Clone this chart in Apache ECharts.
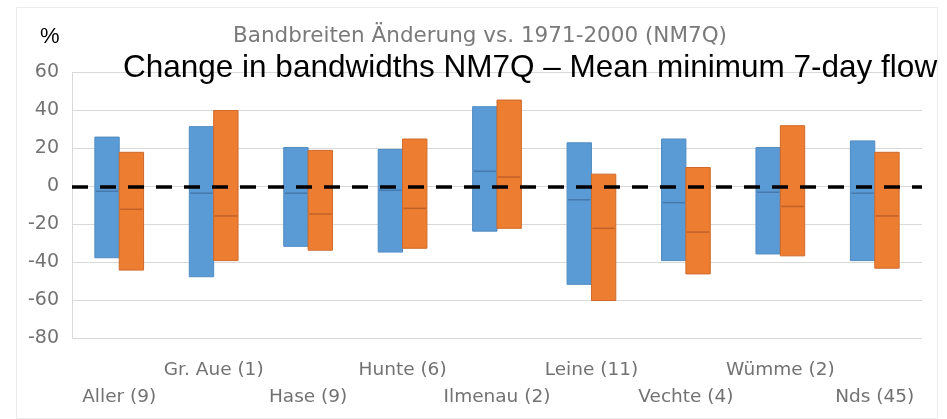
<!DOCTYPE html>
<html>
<head>
<meta charset="utf-8">
<script src="https://cdn.jsdelivr.net/npm/echarts@6/dist/echarts.min.js"></script>
<style>html,body{margin:0;padding:0;background:#fff}#c{width:947px;height:419px}</style>
</head>
<body>
<div id="c"></div>
<script>
const categories = ['Aller (9)','Gr. Aue (1)','Hase (9)','Hunte (6)','Ilmenau (2)','Leine (11)','Vechte (4)','Wümme (2)','Nds (45)'];
const blueMax   = [26, 31.5, 20.5, 19.5, 42, 23, 25, 20.5, 24];
const blueMin   = [-37.5, -47.5, -31.5, -34.5, -23.5, -51.5, -39, -35.5, -39];
const blueMed   = [-2.5, -3.5, -3.5, -2, 8, -7, -8.5, -3, -3.5];
const orangeMax = [18, 40, 19, 25, 45.5, 6.5, 10, 32, 18];
const orangeMin = [-44, -39, -33.5, -32.5, -22, -60, -46, -36.5, -43];
const orangeMed = [-12, -15.5, -14.5, -11.5, 5, -22, -24, -10.5, -15.5];
const yTicks = [-80, -60, -40, -20, 0, 20, 40, 60];

const chart = echarts.init(document.getElementById('c'), null, {renderer: 'canvas'});

function makeRender(side, fill, edge, medColor) {
  return function (params, api) {
    const idx = api.value(0);
    const lo = api.coord([idx, api.value(1)]);
    const hi = api.coord([idx, api.value(2)]);
    const md = api.coord([idx, api.value(3)]);
    const band = api.size([1, 0])[0];
    const w = band * 0.258;
    const x0 = side === 0 ? lo[0] - w : lo[0];
    return {
      type: 'group',
      children: [
        {type: 'rect', shape: {x: x0, y: hi[1], width: w, height: lo[1] - hi[1]},
         style: {fill: fill, stroke: edge, lineWidth: 1}},
        {type: 'line', shape: {x1: x0 + 1, y1: md[1], x2: x0 + w - 1, y2: md[1]},
         style: {stroke: medColor, lineWidth: 1.5}}
      ]
    };
  };
}

const blueData = categories.map((c, i) => [i, blueMin[i], blueMax[i], blueMed[i]]);
const orangeData = categories.map((c, i) => [i, orangeMin[i], orangeMax[i], orangeMed[i]]);

const option = {
  animation: false,
  backgroundColor: '#fff',
  title: [
    {text: 'Bandbreiten Änderung vs. 1971-2000 (NM7Q)', left: 475, top: 20, textAlign: 'center',
     textStyle: {fontFamily: 'DejaVu Sans', fontSize: 21.5, fontWeight: 'normal', color: '#7a7a7a'}},
    {text: 'Change in bandwidths NM7Q – Mean minimum 7-day flow', left: 118, top: 47,
     textStyle: {fontFamily: 'Liberation Sans', fontSize: 31.5, fontWeight: 'normal', color: '#000'}},
    {text: '%', left: 35, top: 21,
     textStyle: {fontFamily: 'Liberation Sans', fontSize: 22, fontWeight: 'normal', color: '#000'}}
  ],
  graphic: [
    {type: 'rect', left: 14, top: 5, shape: {width: 921, height: 411},
     style: {fill: 'none', stroke: '#ececec', lineWidth: 1}, silent: true, z: -1}
  ],
  grid: {left: 72, right: 25, top: 72.5, bottom: 80.5},
  xAxis: {
    type: 'category',
    data: categories,
    axisLine: {show: false},
    axisTick: {show: false},
    axisLabel: {
      interval: 0,
      margin: 18,
      fontFamily: 'DejaVu Sans',
      fontSize: 18.5,
      color: '#727272',
      lineHeight: 27,
      formatter: (v, i) => (i % 2 === 0 ? '\n' + v : v)
    }
  },
  yAxis: {
    type: 'value',
    min: yTicks[0],
    max: yTicks[yTicks.length - 1],
    interval: 20,
    axisLine: {show: true, lineStyle: {color: '#d9d9d9', width: 1}},
    axisTick: {show: false},
    splitLine: {lineStyle: {color: '#d9d9d9', width: 1}},
    axisLabel: {fontFamily: 'DejaVu Sans', fontSize: 19, color: '#727272', margin: 13}
  },
  series: [
    {
      type: 'custom', name: 'blue', data: blueData,
      encode: {x: 0, y: [1, 2, 3]},
      renderItem: makeRender(0, '#5b9bd5', '#4f8bc2', '#4679ad'),
      z: 2
    },
    {
      type: 'custom', name: 'orange', data: orangeData,
      encode: {x: 0, y: [1, 2, 3]},
      renderItem: makeRender(1, '#ed7d31', '#cf6a2a', '#c0612a'),
      z: 2,
      markLine: {
        silent: true, symbol: 'none', z: 5,
        label: {show: false},
        lineStyle: {color: '#000', width: 3.5, type: [16, 12]},
        data: [{yAxis: 0}]
      }
    }
  ]
};
chart.setOption(option);
</script>
</body>
</html>
